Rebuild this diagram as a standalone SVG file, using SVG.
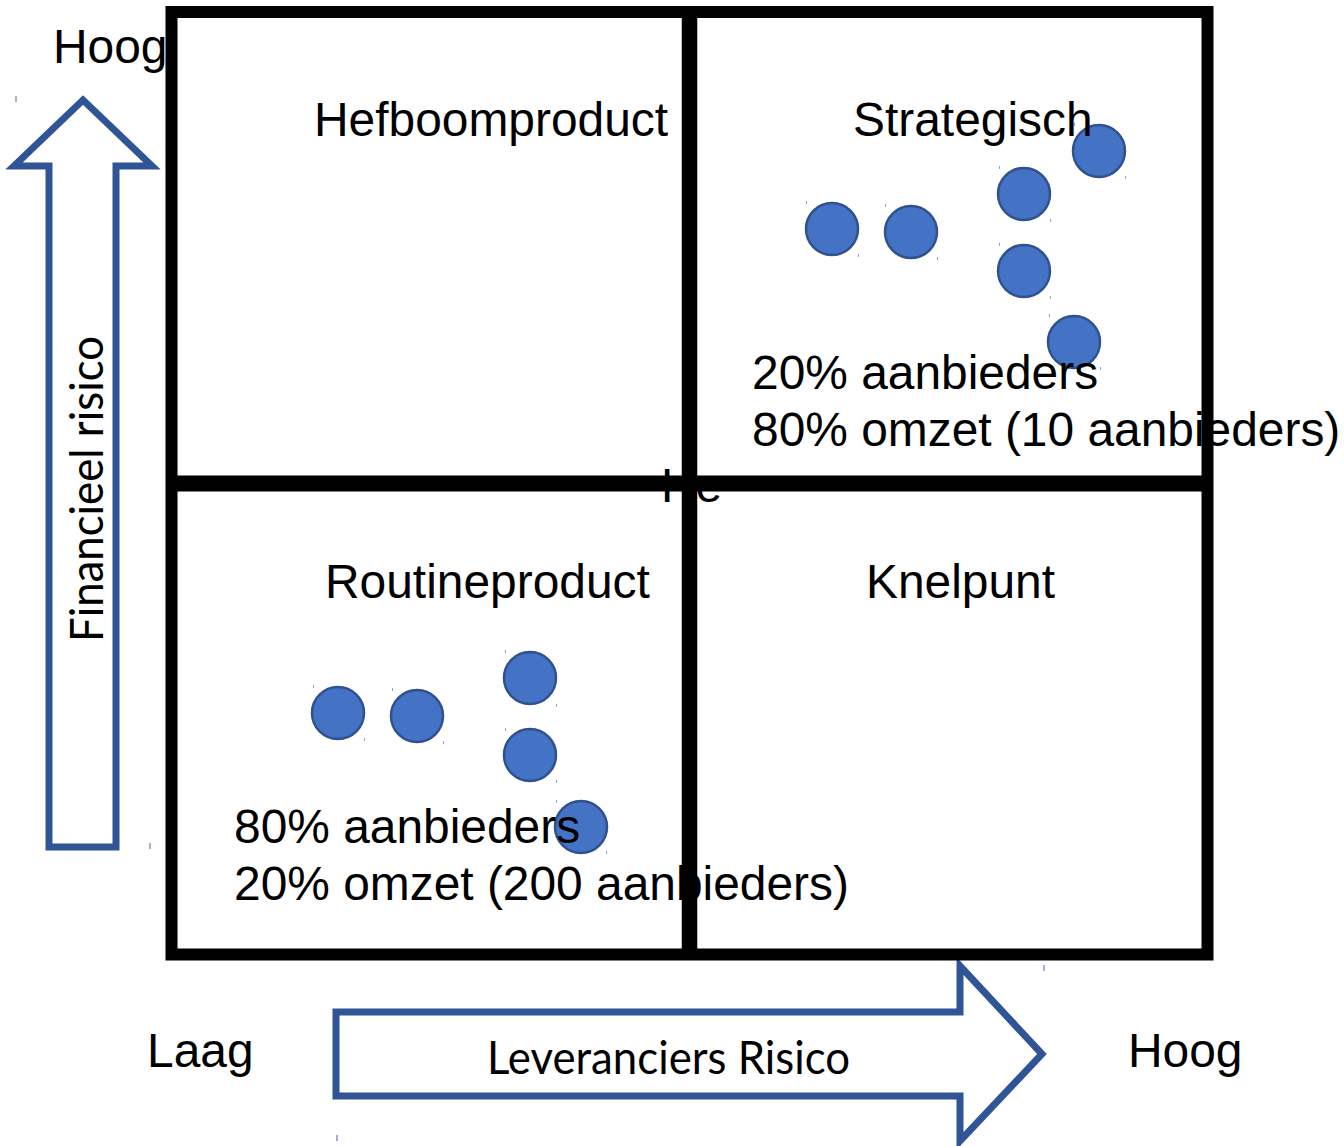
<svg xmlns="http://www.w3.org/2000/svg" width="1344" height="1146" viewBox="0 0 1344 1146">
<style>
.t{font-family:"Liberation Sans",Arial,sans-serif;font-size:47.9px;fill:#000}
.c{font-family:Lato,"Noto Sans",sans-serif;fill:#000}
.dot{fill:#4472C4;stroke:#2F528F;stroke-width:2.5}
.arr{fill:#fff;stroke:#2F5597;stroke-width:7;stroke-linejoin:miter}
.tick{stroke:#5b7fc0;stroke-width:1.2}
.h{fill:#8aa3d4}
</style>
<rect width="1344" height="1146" fill="#fff"/>

<g id="arrow-financieel">
<polygon class="arr" points="49,847 49,166 14,166 83,100 152,166 116,166 116,847"/>
<text class="c" font-size="46" transform="translate(103,642) rotate(-90)" textLength="306" lengthAdjust="spacingAndGlyphs">Financieel risico</text>
</g>
<g id="arrow-leveranciers">
<polygon class="arr" points="336,1012 960,1012 960,966 1042,1054 960,1141 960,1096 336,1096"/>
<text class="c" font-size="46" x="487" y="1074" textLength="363" lengthAdjust="spacingAndGlyphs">Leveranciers Risico</text>
</g>

<g id="ticks">
<line class="tick" x1="16" y1="96" x2="16" y2="102"/>
<line class="tick" x1="150" y1="843" x2="150" y2="849"/>
<line class="tick" x1="1044" y1="965" x2="1044" y2="971"/>
<line class="tick" x1="337" y1="1135" x2="337" y2="1141"/>
</g>

<g id="dots-strategisch">
<circle class="dot" cx="832" cy="229" r="26"/>
<circle class="dot" cx="911" cy="232" r="26"/>
<circle class="dot" cx="1024" cy="194" r="26"/>
<circle class="dot" cx="1099" cy="151" r="26"/>
<circle class="dot" cx="1024" cy="271" r="26"/>
<circle class="dot" cx="1074" cy="342" r="26"/>
</g>
<g id="dots-routine">
<circle class="dot" cx="338" cy="713" r="26"/>
<circle class="dot" cx="417" cy="716" r="26"/>
<circle class="dot" cx="530" cy="678" r="26"/>
<circle class="dot" cx="530" cy="755" r="26"/>
<circle class="dot" cx="581" cy="827" r="26"/>
</g>
<g id="handles">
<rect class="h" x="806" y="201" width="1" height="3"/><rect class="h" x="858" y="254" width="1" height="3"/>
<rect class="h" x="885" y="204" width="1" height="3"/><rect class="h" x="937" y="257" width="1" height="3"/>
<rect class="h" x="999" y="166" width="1" height="3"/><rect class="h" x="1050" y="219" width="1" height="3"/>
<rect class="h" x="1074" y="123" width="1" height="3"/><rect class="h" x="1125" y="176" width="1" height="3"/>
<rect class="h" x="999" y="243" width="1" height="3"/><rect class="h" x="1050" y="296" width="1" height="3"/>
<rect class="h" x="1049" y="314" width="1" height="3"/><rect class="h" x="1100" y="367" width="1" height="3"/>
<rect class="h" x="313" y="685" width="1" height="3"/><rect class="h" x="364" y="738" width="1" height="3"/>
<rect class="h" x="392" y="688" width="1" height="3"/><rect class="h" x="443" y="741" width="1" height="3"/>
<rect class="h" x="505" y="650" width="1" height="3"/><rect class="h" x="556" y="704" width="1" height="3"/>
<rect class="h" x="505" y="728" width="1" height="3"/><rect class="h" x="556" y="780" width="1" height="3"/>
<rect class="h" x="556" y="800" width="1" height="3"/><rect class="h" x="606" y="851" width="1" height="3"/>
</g>

<g id="labels">
<text class="t" x="53" y="63">Hoog</text>
<text class="t" x="147" y="1067">Laag</text>
<text class="t" x="1128" y="1067">Hoog</text>
<text class="t" x="661" y="502" font-size="41">He</text>
</g>
<g id="q-hefboom"><text class="t" x="314" y="136">Hefboomproduct</text></g>
<g id="q-strategisch">
<text class="t" x="853" y="136">Strategisch</text>
<text class="t" x="752" y="389">20% aanbieders</text>
<text class="t" x="752" y="446">80% omzet (10 aanbieders)</text>
</g>
<g id="q-routine">
<text class="t" x="325" y="598">Routineproduct</text>
<text class="t" x="234" y="843">80% aanbieders</text>
<text class="t" x="234" y="900">20% omzet (200 aanbieders)</text>
</g>
<g id="q-knelpunt"><text class="t" x="866" y="598">Knelpunt</text></g>

<g id="grid" stroke="#000" fill="none">
<rect x="171.5" y="12" width="1036" height="942.5" stroke-width="12"/>
<line x1="689.5" y1="6" x2="689.5" y2="960" stroke-width="15.5"/>
<line x1="166" y1="483.5" x2="1213" y2="483.5" stroke-width="16"/>
</g>
</svg>
